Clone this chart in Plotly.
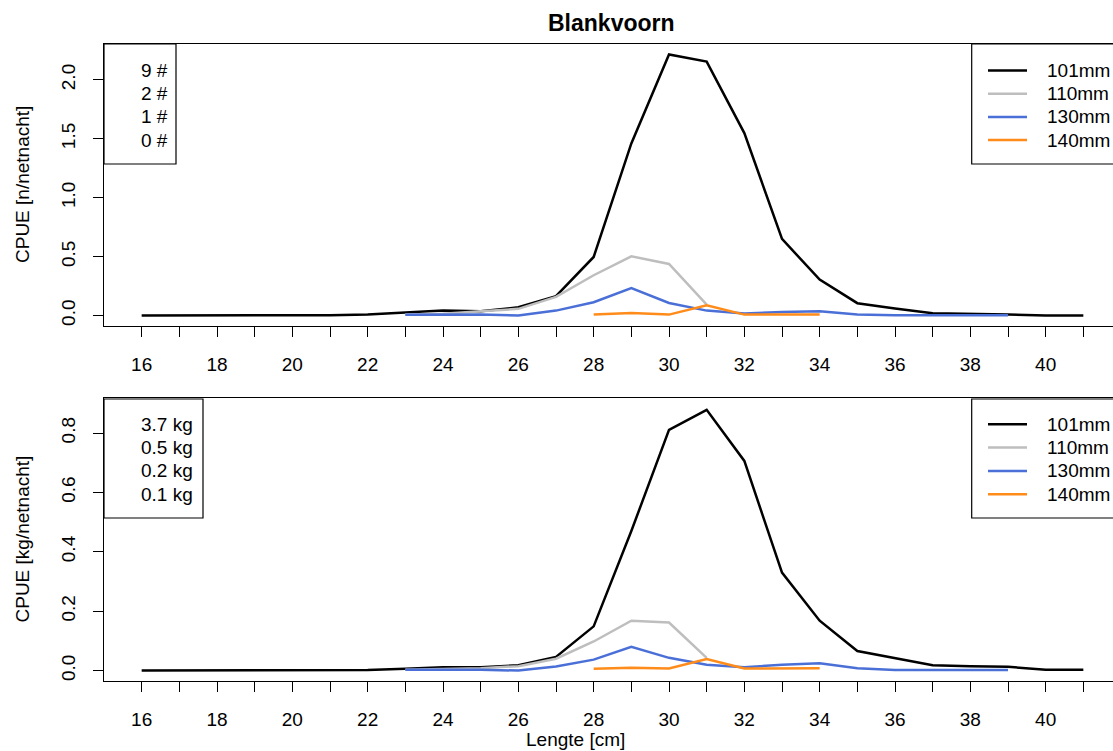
import plotly.graph_objects as go

# ---- data ----
lengths = list(range(16, 42))
mesh_names = ["101mm", "110mm", "130mm", "140mm"]
mesh_colors = ["#000000", "#BEBEBE", "#4A6FD6", "#FF8C1A"]

# CPUE numbers [n/netnacht]
n_101 = [0, 0, 0, 0, 0, 0.003, 0.01, 0.028, 0.042, 0.036, 0.07, 0.164, 0.497, 1.46,
         2.215, 2.155, 1.548, 0.65, 0.305, 0.105, 0.059, 0.02, 0.017, 0.008, 0.0, 0.0]
n_110_len = list(range(23, 32))
n_110 = [0.01, 0.015, 0.036, 0.057, 0.158, 0.342, 0.503, 0.438, 0.093]
n_130_len = list(range(23, 40))
n_130 = [0.006, 0.006, 0.01, 0.0, 0.042, 0.113, 0.234, 0.107, 0.042, 0.017, 0.031,
         0.036, 0.008, 0.002, 0.002, 0.002, 0.002]
n_140_len = list(range(28, 35))
n_140 = [0.008, 0.022, 0.008, 0.088, 0.008, 0.008, 0.008]

# CPUE weight [kg/netnacht]
w_101 = [0, 0, 0, 0, 0, 0.001, 0.002, 0.006, 0.011, 0.011, 0.018, 0.046, 0.149, 0.47,
         0.811, 0.878, 0.706, 0.33, 0.168, 0.066, 0.043, 0.018, 0.015, 0.013, 0.003, 0.003]
w_110 = [0.003, 0.005, 0.008, 0.015, 0.04, 0.098, 0.168, 0.162, 0.043]
w_130 = [0.003, 0.003, 0.003, 0.0, 0.014, 0.037, 0.08, 0.043, 0.02, 0.011, 0.02,
         0.025, 0.008, 0.002, 0.002, 0.002, 0.002]
w_140 = [0.006, 0.01, 0.007, 0.039, 0.007, 0.008, 0.008]

totals_n = [9, 2, 1, 0]
totals_kg = [3.7, 0.5, 0.2, 0.1]

x_tick_vals = list(range(16, 42))
x_tick_text = [str(v) if v % 2 == 0 else "" for v in x_tick_vals]
y1_ticks = [0.0, 0.5, 1.0, 1.5, 2.0]
y2_ticks = [0.0, 0.2, 0.4, 0.6, 0.8]

title = "Blankvoorn"
ylab_top = "CPUE [n/netnacht]"
ylab_bot = "CPUE [kg/netnacht]"
xlab = "Lengte [cm]"

# ---- geometry helpers (pixels) ----
W, H = 1113, 751
ML, MR, MT, MB = 104, 0, 44, 70
PW = W - ML - MR
PH = H - MT - MB
FONT = "Liberation Sans, Arial, sans-serif"
FS = 19
LW = 2.5


def px(xp):
    return (xp - ML) / PW


def py(yp):
    return (H - MB - yp) / PH


top_series = [
    (lengths, n_101), (n_110_len, n_110), (n_130_len, n_130), (n_140_len, n_140)
]
bot_series = [
    (lengths, w_101), (n_110_len, w_110), (n_130_len, w_130), (n_140_len, w_140)
]

fig = go.Figure()
for (xs, ys), name, col in zip(top_series, mesh_names, mesh_colors):
    fig.add_trace(go.Scatter(x=xs, y=ys, mode="lines", name=name,
                             line=dict(color=col, width=LW),
                             xaxis="x", yaxis="y", showlegend=False))
for (xs, ys), name, col in zip(bot_series, mesh_names, mesh_colors):
    fig.add_trace(go.Scatter(x=xs, y=ys, mode="lines", name=name,
                             line=dict(color=col, width=LW),
                             xaxis="x2", yaxis="y2", showlegend=False))

xr = [15.0, 15.0 + PW / 37.667]
top_dom = [py(326), 1.0]
bot_dom = [0.0, py(398)]

axis_common = dict(showline=True, linecolor="#000000", linewidth=1.2,
                   ticks="outside", ticklen=10, tickwidth=1, tickcolor="#000000",
                   showgrid=False, zeroline=False,
                   tickfont=dict(family=FONT, size=FS, color="#000000"))

fig.update_layout(
    width=W, height=H,
    margin=dict(l=ML, r=MR, t=MT, b=MB),
    paper_bgcolor="white", plot_bgcolor="white",
    xaxis=dict(domain=[0, 1], range=xr, anchor="y", mirror=True,
               tickvals=x_tick_vals, ticktext=x_tick_text,
               ticklabelstandoff=11, **axis_common),
    yaxis=dict(domain=top_dom, range=[-0.0886, 2.304], anchor="x",
               tickvals=y1_ticks, ticktext=[f"{v:.1f}" for v in y1_ticks],
               tickangle=-90, ticklabelstandoff=10, **axis_common),
    xaxis2=dict(domain=[0, 1], range=xr, anchor="y2", mirror=True,
                tickvals=x_tick_vals, ticktext=x_tick_text,
                ticklabelstandoff=11, **axis_common),
    yaxis2=dict(domain=bot_dom, range=[-0.035, 0.918], anchor="x2",
                tickvals=y2_ticks, ticktext=[f"{v:.1f}" for v in y2_ticks],
                tickangle=-90, ticklabelstandoff=10, **axis_common),
)

shapes = []
ann = []


def txt(xp, yp, s, anchor="left", size=FS, bold=False, angle=0):
    ann.append(dict(xref="paper", yref="paper", x=px(xp), y=py(yp),
                    text=f"<b>{s}</b>" if bold else s, showarrow=False,
                    xanchor=anchor, yanchor="middle", textangle=angle,
                    font=dict(family=FONT, size=size, color="#000000")))


def box(x0, y0, x1, y1):
    shapes.append(dict(type="rect", xref="paper", yref="paper",
                       x0=px(x0), x1=px(x1), y0=py(y1), y1=py(y0),
                       line=dict(color="#000000", width=1.2)))


# top-left totals box
box(104, 44, 176, 164)
row_top = [70.5 + 23.2 * i for i in range(4)]
for yv, n in zip(row_top, totals_n):
    txt(139, yv, f"{n} #")
# bottom-left totals box
box(104, 399, 203, 518)
row_bot = [424.3 + 23.3 * i for i in range(4)]
for yv, kg in zip(row_bot, totals_kg):
    txt(139, yv, f"{kg} kg")

# legends (right boxes extend beyond the page)
for rows, y0, y1 in [(row_top, 44, 164), (row_bot, 399, 518)]:
    box(971.7, y0, 1200, y1)
    for yv, name, col in zip(rows, mesh_names, mesh_colors):
        shapes.append(dict(type="line", xref="paper", yref="paper",
                           x0=px(988), x1=px(1027), y0=py(yv), y1=py(yv),
                           line=dict(color=col, width=LW)))
        txt(1045, yv, name)

txt(611, 23, title, anchor="center", size=23, bold=True)
txt(575, 739, xlab, anchor="center")
txt(22, 185, ylab_top, anchor="center", angle=-90)
txt(22, 539.5, ylab_bot, anchor="center", angle=-90)

fig.update_layout(shapes=shapes, annotations=ann)
fig.write_html("out.html",
               config={"displayModeBar": False},
               post_script="document.body.style.margin='0';"
                           "document.body.style.overflow='hidden';")
